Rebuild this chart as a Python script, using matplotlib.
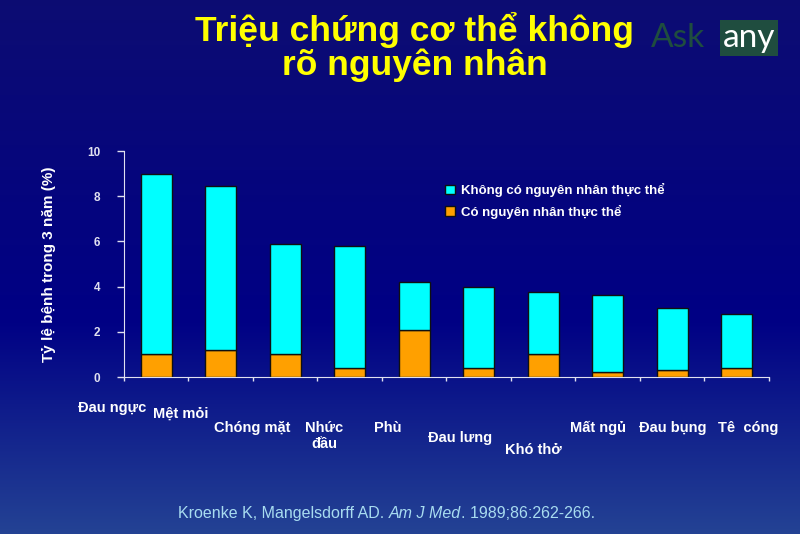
""" Stacked bar chart: Triệu chứng cơ thể không rõ nguyên nhân """

import numpy as np
import matplotlib.pyplot as plt

plt.rcParams["font.family"] = ["Liberation Sans", "DejaVu Sans"]

# Data
categories = ["Đau ngực", "Mệt mỏi", "Chóng mặt", "Nhức\nđầu", "Phù",
              "Đau lưng", "Khó thở", "Mất ngủ", "Đau bụng", "Tê  cóng"]
co_nguyen_nhan = [1.0, 1.2, 1.0, 0.4, 2.1, 0.4, 1.0, 0.2, 0.3, 0.4]
khong_nguyen_nhan = [8.0, 7.25, 4.9, 5.4, 2.1, 3.6, 2.75, 3.45, 2.75, 2.4]
y_ticks = [0, 2, 4, 6, 8, 10]

fig = plt.figure(figsize=(8, 5.34), dpi=100)

# background gradient
bg = fig.add_axes([0, 0, 1, 1])
grad = np.linspace(0, 1, 256)
top = np.array([0.05, 0.05, 0.45])
mid = np.array([0.0, 0.0, 0.52])
bot = np.array([0.14, 0.26, 0.58])
cols = np.empty((256, 1, 3))
for i, t in enumerate(grad):
  if t < 0.6:
    cols[i, 0] = top + (mid - top) * (t / 0.6)
  else:
    cols[i, 0] = mid + (bot - mid) * ((t - 0.6) / 0.4)
bg.imshow(cols, aspect="auto", extent=[0, 1, 0, 1])
bg.axis("off")

ax = fig.add_axes([0.155, 0.294, 0.806, 0.423])
ax.patch.set_alpha(0)
x = np.arange(len(categories))
ax.bar(x, co_nguyen_nhan, width=0.48, color="#ffa000",
       edgecolor="#101010", linewidth=1, label="Có nguyên nhân thực thể")
ax.bar(x, khong_nguyen_nhan, width=0.48, bottom=co_nguyen_nhan,
       color="#00ffff", edgecolor="#101010", linewidth=1,
       label="Không có nguyên nhân thực thể")

ax.set_xlim(-0.5, len(categories) - 0.5)
ax.set_ylim(0, 10)
ax.set_yticks(y_ticks)
ax.set_yticklabels([str(v) for v in y_ticks], color="#e0e0f0",
                   fontsize=8.5, fontweight="bold")
ax.set_xticks(np.arange(len(categories) + 1) - 0.5)
ax.set_xticklabels([])
ax.tick_params(axis="y", colors="#e0e0f0", length=5, width=1, pad=12)
ax.tick_params(axis="x", colors="#e0e0f0", length=3, width=1)
for side in ["top", "right"]:
  ax.spines[side].set_visible(False)
for side in ["left", "bottom"]:
  ax.spines[side].set_color("#e0e0f0")

# category labels, staggered as in the slide
label_pos = [(112, 408), (181, 414), (252, 428), (324, 436), (388, 428),
             (460, 438), (533, 450), (598, 428), (673, 428), (748, 428)]
for name, (px, py) in zip(categories, label_pos):
  fig.text(px / 800, 1 - py / 534, name, color="white", fontsize=10.5,
           fontweight="bold", ha="center", va="center", linespacing=1.1)

# legend
handles, labels = ax.get_legend_handles_labels()
leg = ax.legend(handles[::-1], labels[::-1], loc="upper left",
                bbox_to_anchor=(0.48, 0.91), frameon=False,
                handlelength=0.7, handleheight=0.7, handletextpad=0.5,
                labelspacing=0.55, prop={"size": 9.5, "weight": "bold"})
for t in leg.get_texts():
  t.set_color("white")

ax.set_ylabel("Tỷ lệ bệnh trong 3 năm (%)", color="white", fontsize=11,
              fontweight="bold")
ax.yaxis.set_label_coords(-0.105, 0.5)

# title
fig.text(0.518, 1 - 47 / 534, "Triệu chứng cơ thể không\nrõ nguyên nhân",
         color="#ffff00", fontsize=25.5, fontweight="bold",
         ha="center", va="center", linespacing=1.0)

# watermark logo
fig.text(651 / 800, 1 - 38 / 534, "Ask", color="#1f4d3f", fontsize=24,
         ha="left", va="center", family="Lato")
fig.text(749 / 800, 1 - 38 / 534, "any", color="white", fontsize=24,
         ha="center", va="center", family="Lato",
         bbox=dict(boxstyle="square,pad=0.08", fc="#1f4d3f", ec="none"))

# citation
cite = "#a8dcf0"
t1 = fig.text(178 / 800, 1 - 518 / 534, "Kroenke K, Mangelsdorff AD. ",
              color=cite, fontsize=11.5)
a2 = ax.annotate("Am J Med", xy=(1, 0), xycoords=t1, va="bottom",
                 color=cite, fontsize=11.5, style="italic")
ax.annotate(". 1989;86:262-266.", xy=(1, 0), xycoords=a2, va="bottom",
            color=cite, fontsize=11.5)

fig.savefig("out.png", dpi=100)
